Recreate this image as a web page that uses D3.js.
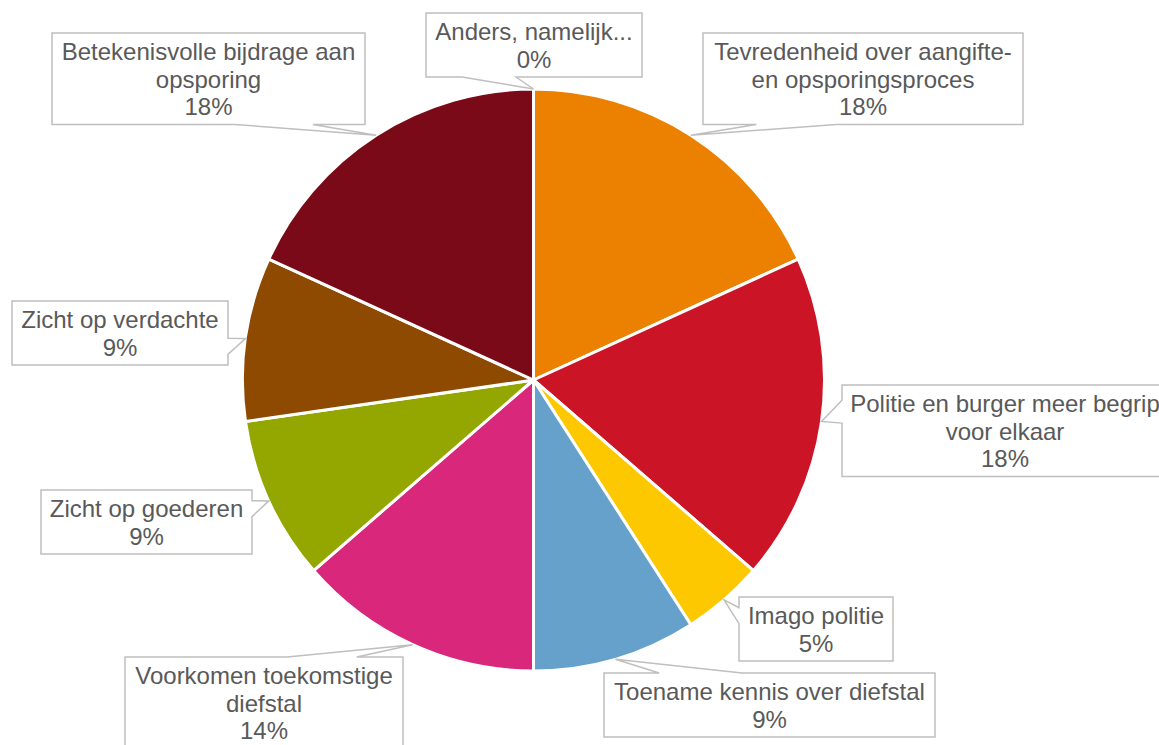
<!DOCTYPE html>
<html>
<head>
<meta charset="utf-8">
<script src="https://cdn.jsdelivr.net/npm/d3@7"></script>
<style>
  html, body { margin: 0; padding: 0; background: #fff; overflow: hidden; }
  svg { display: block; }
</style>
</head>
<body>
<script>
// categories in clockwise order from 12 o'clock (label lines as shown in the boxes)
var categories = [
  ["Tevredenheid over aangifte-", "en opsporingsproces"],
  ["Politie en burger meer begrip", "voor elkaar"],
  ["Imago politie"],
  ["Toename kennis over diefstal"],
  ["Voorkomen toekomstige", "diefstal"],
  ["Zicht op goederen"],
  ["Zicht op verdachte"],
  ["Betekenisvolle bijdrage aan", "opsporing"],
  ["Anders, namelijk..."]
];
// number of answers per category
var counts = [4, 4, 1, 2, 3, 2, 2, 4, 0];
var colors = ["#ec8000", "#cb1426", "#fec800", "#66a1cb", "#d9277b", "#93a700", "#8e4a00", "#7a0a17", "#a5a5a5"];

// callout boxes: left, top, width (same order as categories)
var boxes = [
  [703, 33, 320],
  [842, 385, 326],
  [739, 597, 154],
  [604, 673, 331],
  [125, 657, 278],
  [41, 490, 211],
  [12, 301, 216],
  [52, 33, 313],
  [426, 13, 216]
];

var W = 1159, H = 745;
var cx = 533.5, cy = 380, r = 291;
var lineH = 27.5;

var svg = d3.select("body").append("svg")
    .attr("width", W)
    .attr("height", H);

var total = d3.sum(counts);
var data = counts.map(function(c, i) { return {i: i, value: c}; });

var pie = d3.pie()
    .sort(null)
    .value(function(d) { return d.value; });
var arcs = pie(data);

var arc = d3.arc().innerRadius(0).outerRadius(r);

var g = svg.append("g")
    .attr("transform", "translate(" + cx + "," + cy + ")");

g.selectAll("path.slice")
    .data(arcs.filter(function(a) { return a.value > 0; }))
  .enter().append("path")
    .attr("class", "slice")
    .attr("d", arc)
    .attr("fill", function(a) { return colors[a.data.i]; })
    .attr("stroke", "#fff")
    .attr("stroke-width", 3)
    .attr("stroke-linejoin", "round");

// Excel style wedge callout: box with a pointer that goes to the slice
function callout(l, t, w, h, px, py) {
  var dx = px - (l + w / 2), dy = py - (t + h / 2);
  var dz = Math.abs(dy) - Math.abs(dx) * h / w;
  var x1 = l + w * (dx > 0 ? 7 : 2) / 12, x2 = l + w * (dx > 0 ? 10 : 5) / 12;
  var y1 = t + h * (dy > 0 ? 7 : 2) / 12, y2 = t + h * (dy > 0 ? 10 : 5) / 12;
  var p = d3.path();
  p.moveTo(l, t);
  if (dz > 0 && dy < 0) { p.lineTo(x1, t); p.lineTo(px, py); p.lineTo(x2, t); }
  p.lineTo(l + w, t);
  if (dz <= 0 && dx > 0) { p.lineTo(l + w, y1); p.lineTo(px, py); p.lineTo(l + w, y2); }
  p.lineTo(l + w, t + h);
  if (dz > 0 && dy > 0) { p.lineTo(x2, t + h); p.lineTo(px, py); p.lineTo(x1, t + h); }
  p.lineTo(l, t + h);
  if (dz <= 0 && dx < 0) { p.lineTo(l, y2); p.lineTo(px, py); p.lineTo(l, y1); }
  p.closePath();
  return p.toString();
}

var labels = svg.append("g").attr("class", "labels");

arcs.forEach(function(a) {
  var i = a.data.i;
  var mid = (a.startAngle + a.endAngle) / 2;
  var px = cx + r * Math.sin(mid), py = cy - r * Math.cos(mid);
  var lines = categories[i].concat([Math.round(counts[i] / total * 100) + "%"]);
  var b = boxes[i];
  var h = lines.length * lineH + 9;

  labels.append("path")
      .attr("d", callout(b[0], b[1], b[2], h, px, py))
      .attr("fill", "#fff")
      .attr("stroke", "#bfbfbf")
      .attr("stroke-width", 1.5);

  var txt = labels.append("text")
      .attr("x", b[0] + b[2] / 2)
      .attr("y", b[1] + 27)
      .attr("text-anchor", "middle")
      .attr("fill", "#595959")
      .style("font-family", "'Liberation Sans', Arial, sans-serif")
      .style("font-size", "24px");

  txt.selectAll("tspan")
      .data(lines)
    .enter().append("tspan")
      .attr("x", b[0] + b[2] / 2)
      .attr("dy", function(d, k) { return k === 0 ? 0 : lineH; })
      .text(function(d) { return d; });
});
</script>
</body>
</html>
